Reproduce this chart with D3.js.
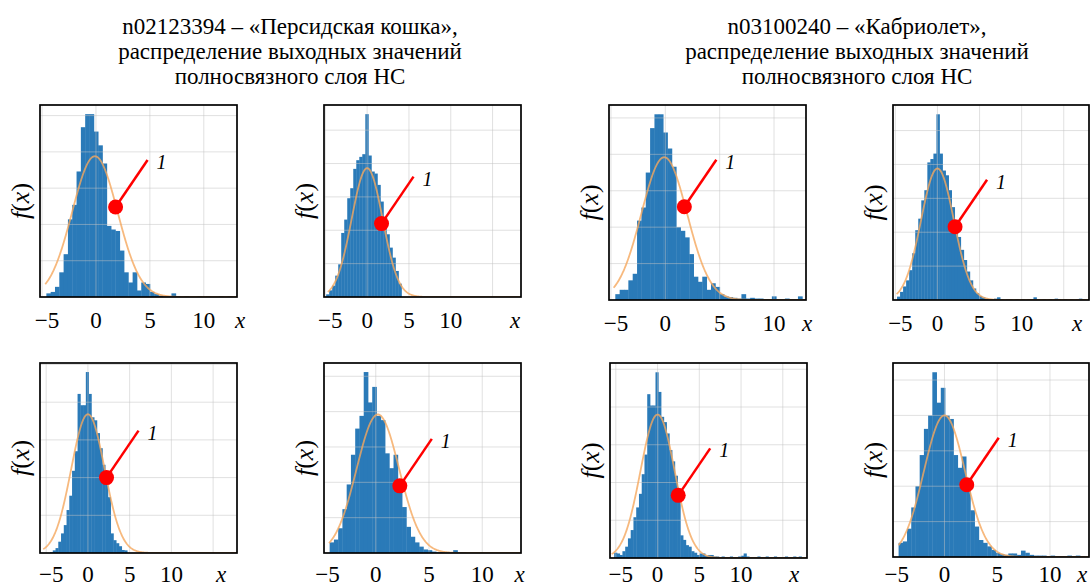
<!DOCTYPE html>
<html>
<head>
<meta charset="utf-8">
<script src="https://cdn.jsdelivr.net/npm/d3@7"></script>
<style>
  body { margin: 0; background: #fff; }
  svg { display: block; }
</style>
</head>
<body>
<svg id="chart" width="1090" height="588" font-family="'Liberation Serif', 'Times New Roman', serif"></svg>
<script>
// titles of the two column groups
const titleLeft = ["n02123394 – «Персидская кошка»,", "распределение выходных значений", "полносвязного слоя НС"];
const titleRight = ["n03100240 – «Кабриолет»,", "распределение выходных значений", "полносвязного слоя НС"];

const tickLabels = [-5, 0, 5, 10];

// x limits of each panel (A B C D / E F G H, row by row)
const xLimits = [[-5.19, 13.08], [-5.16, 18.4], [-5.18, 12.94], [-5.28, 18.0],
                 [-5.74, 17.86], [-4.86, 13.64], [-5.7, 17.9], [-4.88, 13.7]];

// histogram bins: first left edge, width, densities
const binStarts = [-4.6, -4.9, -4.6, -4.8, -4.54, -4.33, -5.2, -4.35];
const binWidths = [0.4, 0.36, 0.4, 0.36, 0.33, 0.4, 0.33, 0.4];

const histA = [0.005, 0.007, 0.014, 0.034, 0.059, 0.107, 0.127, 0.173, 0.234, 0.252, 0.252, 0.228, 0.209, 0.184, 0.098, 0.093,
  0.091, 0.064, 0.034, 0.020, 0.034, 0.009, 0.020, 0.018, 0.007, 0.004, 0.002, 0.001, 0.001, 0.005, 0.001, 0, 0.001, 0, 0,
  0.001, 0, 0.001, 0, 0, 0.001, 0, 0.001, 0];
const histB = [0.004, 0.010, 0.017, 0.032, 0.049, 0.096, 0.116, 0.148, 0.163, 0.192, 0.205, 0.210, 0.214, 0.274, 0.212,
  0.188, 0.185, 0.168, 0.143, 0.118, 0.094, 0.074, 0.059, 0.039, 0.020];
const histC = [0.008, 0.014, 0.014, 0.027, 0.036, 0.109, 0.127, 0.175, 0.236, 0.255, 0.255, 0.230, 0.208, 0.183, 0.100, 0.095,
  0.086, 0.063, 0.032, 0.025, 0.032, 0.014, 0.023, 0.018, 0.008, 0.005, 0.004, 0.003, 0.002, 0.008, 0.002, 0.003, 0.002,
  0.002, 0.001, 0.001, 0.005, 0.001, 0.001, 0.002, 0.001, 0.001, 0.005, 0.001];
const histD = [0.005, 0.012, 0.020, 0.029, 0.044, 0.069, 0.103, 0.120, 0.147, 0.162, 0.203, 0.208, 0.216, 0.274, 0.216,
  0.191, 0.184, 0.162, 0.137, 0.113, 0.093, 0.074, 0.059, 0.042, 0.029, 0.017, 0.010, 0.006, 0.004, 0.002, 0.001, 0.001,
  0.002, 0.004, 0.001, 0, 0.001, 0.001, 0, 0.001, 0, 0.001, 0, 0.001, 0.001, 0.004, 0.001, 0, 0.001, 0, 0.001, 0, 0.002,
  0.001, 0, 0.001, 0, 0.001, 0, 0.001, 0.002, 0.001];
const histE = [0.001, 0.0035, 0.0065, 0.015, 0.026, 0.037, 0.057, 0.076, 0.109, 0.135, 0.211, 0.196, 0.196, 0.240, 0.211,
  0.180, 0.176, 0.159, 0.139, 0.117, 0.096, 0.074, 0.026, 0.017, 0.013, 0.009, 0.004, 0.0035];
const histF = [0.015, 0.019, 0.035, 0.062, 0.097, 0.139, 0.176, 0.194, 0.256, 0.213, 0.235, 0.194, 0.188, 0.141, 0.120,
  0.139, 0.088, 0.065, 0.037, 0.023, 0.015, 0.009, 0.005, 0.004, 0.002, 0.001, 0.0015, 0.0015, 0.001, 0.004, 0.001, 0.001];
const histG = [0.007, 0.006, 0.004, 0.009, 0.015, 0.026, 0.037, 0.054, 0.067, 0.085, 0.111, 0.137, 0.217, 0.202, 0.202,
  0.246, 0.220, 0.187, 0.180, 0.165, 0.143, 0.128, 0.109, 0.085, 0.030, 0.024, 0.017, 0.015, 0.009, 0.007, 0.004, 0.006,
  0.006, 0.003, 0.004, 0.004, 0.002, 0.002, 0.001, 0.002, 0.001, 0.001, 0.002, 0.001, 0.001, 0.002, 0.003, 0.006, 0.002,
  0.001, 0.001, 0.001, 0.002, 0.001, 0.001, 0.002, 0.001, 0.001, 0.002, 0.001, 0.001, 0.001, 0.002, 0.001, 0.001, 0.002,
  0.001, 0.002];
const histH = [0.020, 0.022, 0.040, 0.070, 0.100, 0.144, 0.181, 0.200, 0.261, 0.218, 0.239, 0.200, 0.195, 0.144, 0.126,
  0.142, 0.094, 0.066, 0.043, 0.024, 0.020, 0.015, 0.010, 0.006, 0.004, 0.003, 0.005, 0.005, 0.003, 0.009, 0.006, 0.003,
  0.002, 0.002, 0.002, 0.001, 0.002, 0.001, 0.001, 0.001, 0.002, 0.001, 0.002, 0.001];
const histograms = [histA, histB, histC, histD, histE, histF, histG, histH];

// fitted normal density: mean, sigma, peak value, where the curve starts
const fitMean = [-0.1, 0.0, -0.1, 0.0, 0.0, 0.2, 0.0, 0.0];
const fitSigma = [2.1, 1.85, 2.1, 1.95, 2.0, 2.0, 2.05, 1.95];
const fitPeak = [0.194, 0.193, 0.196, 0.194, 0.184, 0.196, 0.190, 0.200];
const fitFrom = [-4.7, -4.7, -4.75, -4.85, -5.35, -4.4, -5.5, -4.35];

// marker "1" on each panel (x, density)
const markerX = [1.82, 1.72, 1.75, 2.09, 2.23, 2.26, 2.47, 2.11];
const markerY = [0.124, 0.110, 0.128, 0.108, 0.100, 0.095, 0.083, 0.102];

// ---- layout ----
const frames = [
  {x: 40, y: 105, w: 197, h: 192}, {x: 324, y: 105, w: 197, h: 192},
  {x: 609, y: 105, w: 197, h: 195}, {x: 893, y: 105, w: 196, h: 195},
  {x: 40, y: 363, w: 197, h: 190}, {x: 324, y: 363, w: 197, h: 190},
  {x: 610, y: 363, w: 197, h: 195}, {x: 893, y: 363, w: 196, h: 194}
];
const xLabelShift = [3, -6, 1, -12, -16, -1.5, -13, -7];

const svg = d3.select("#chart");

function drawTitle(lines, cx) {
  lines.forEach((line, j) => {
    svg.append("text")
      .attr("x", cx).attr("y", 34 + j * 25)
      .attr("text-anchor", "middle")
      .attr("font-size", 23)
      .text(line);
  });
}
drawTitle(titleLeft, 290);
drawTitle(titleRight, 857);

function gauss(i, v) {
  const z = (v - fitMean[i]) / fitSigma[i];
  return fitPeak[i] * Math.exp(-0.5 * z * z);
}

function drawPanel(i) {
  const f = frames[i];
  const heights = histograms[i];
  const g = svg.append("g").attr("transform", `translate(${f.x},${f.y})`);

  const x = d3.scaleLinear().domain(xLimits[i]).range([0, f.w]);
  const y = d3.scaleLinear().domain([0, d3.max(heights) * 1.05]).range([f.h, 0]);

  const clipId = "clip" + i;
  g.append("clipPath").attr("id", clipId)
    .append("rect").attr("width", f.w).attr("height", f.h);
  const plot = g.append("g").attr("clip-path", `url(#${clipId})`);

  const bins = heights.map((h, k) => ({
    x0: binStarts[i] + k * binWidths[i],
    x1: binStarts[i] + (k + 1) * binWidths[i],
    h: h
  }));

  plot.selectAll("rect.bar")
    .data(bins.filter(d => d.h > 0))
    .enter().append("rect")
    .attr("class", "bar")
    .attr("x", d => x(d.x0))
    .attr("width", d => x(d.x1) - x(d.x0) + 0.4)
    .attr("y", d => y(d.h))
    .attr("height", d => f.h - y(d.h))
    .attr("fill", "#2a7ab8");

  // grid on top of the bars
  plot.selectAll("line.vgrid")
    .data(x.ticks(4))
    .enter().append("line")
    .attr("x1", d => x(d)).attr("x2", d => x(d))
    .attr("y1", 0).attr("y2", f.h)
    .attr("stroke", "#c4c4c4").attr("stroke-opacity", 0.5).attr("stroke-width", 1);
  plot.selectAll("line.hgrid")
    .data(y.ticks(5).filter(d => d > 0))
    .enter().append("line")
    .attr("x1", 0).attr("x2", f.w)
    .attr("y1", d => y(d)).attr("y2", d => y(d))
    .attr("stroke", "#c4c4c4").attr("stroke-opacity", 0.5).attr("stroke-width", 1);

  // fitted normal curve
  const xs = d3.range(fitFrom[i], xLimits[i][1], 0.05);
  const line = d3.line().x(d => x(d)).y(d => y(gauss(i, d)));
  plot.append("path")
    .datum(xs)
    .attr("d", line)
    .attr("fill", "none")
    .attr("stroke", "#f5a85e")
    .attr("stroke-opacity", 0.8)
    .attr("stroke-width", 1.8);

  g.append("rect")
    .attr("width", f.w).attr("height", f.h)
    .attr("fill", "none").attr("stroke", "#000").attr("stroke-width", 1.7);

  // marker with leader and label "1"
  const mx = x(markerX[i]), my = y(markerY[i]);
  const ex = mx + 32, ey = my - 47;
  g.append("line")
    .attr("x1", mx).attr("y1", my).attr("x2", ex).attr("y2", ey)
    .attr("stroke", "#ff0000").attr("stroke-width", 2.5);
  g.append("circle")
    .attr("cx", mx).attr("cy", my).attr("r", 7.5)
    .attr("fill", "#ff0000");
  g.append("text")
    .attr("x", ex + 9).attr("y", ey + 9)
    .attr("font-size", 20).attr("font-style", "italic")
    .text("1");

  // x tick labels
  const labelY = Math.min(f.h + 31, 582 - f.y);
  g.selectAll("text.tick")
    .data(tickLabels)
    .enter().append("text")
    .attr("class", "tick")
    .attr("x", d => x(d) + (d < 0 ? 5 : 0))
    .attr("y", labelY)
    .attr("text-anchor", "middle")
    .attr("font-size", 23)
    .text(d => d < 0 ? "\u2212" + Math.abs(d) : d);

  g.append("text")
    .attr("x", f.w + xLabelShift[i]).attr("y", labelY)
    .attr("text-anchor", "middle")
    .attr("font-size", 23).attr("font-style", "italic")
    .text("x");

  // y label f(x)
  const yl = g.append("text")
    .attr("transform", `translate(-11,${f.h / 2}) rotate(-90)`)
    .attr("text-anchor", "middle")
    .attr("font-size", 26);
  yl.append("tspan").attr("font-style", "italic").text("f");
  yl.append("tspan").text("(");
  yl.append("tspan").attr("font-style", "italic").text("x");
  yl.append("tspan").text(")");
}

frames.forEach((f, i) => drawPanel(i));
</script>
</body>
</html>
